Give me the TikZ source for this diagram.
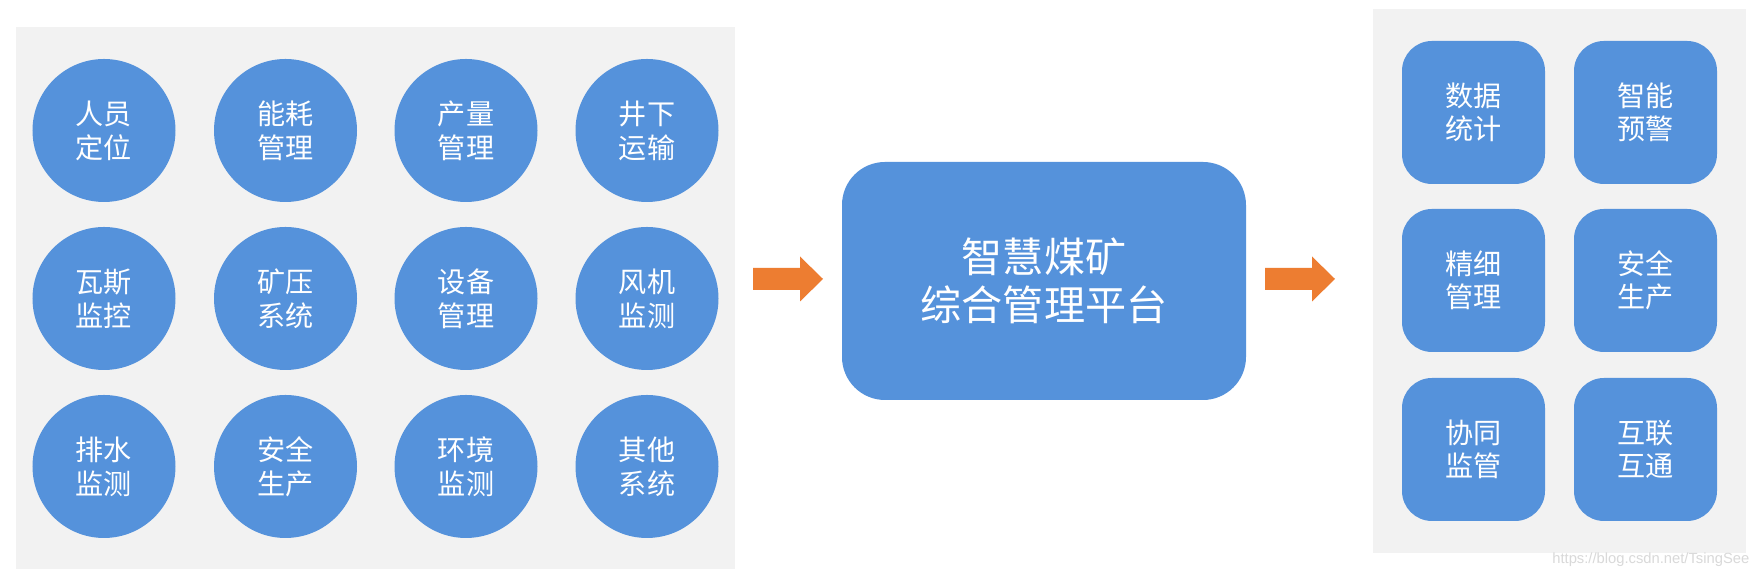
\documentclass[tikz,border=0pt]{standalone}
\usepackage{fontspec}
\setmainfont{Noto Sans CJK SC}
\newfontfamily\markfont{Liberation Sans}

\definecolor{nodeblue}{RGB}{85,146,219}
\definecolor{panelgray}{RGB}{242,242,242}
\definecolor{arroworange}{RGB}{237,125,49}

\tikzstyle{panel} = [fill=panelgray, draw=none]
\tikzstyle{sys} = [circle, fill=nodeblue, minimum size=1.43cm, text=white, font=\fontsize{8}{9.7}\selectfont]
\tikzstyle{func} = [rectangle, rounded corners=0.3cm, fill=nodeblue, minimum size=1.43cm, text=white, font=\fontsize{8}{9.5}\selectfont]
\tikzstyle{platform} = [rectangle, rounded corners=0.43cm, fill=nodeblue, minimum width=4.04cm, minimum height=2.38cm, text=white, font=\fontsize{11.7}{13.7}\selectfont]
\tikzstyle{bigarrow} = [fill=arroworange]

\begin{document}
\begin{tikzpicture}[every node/.style={inner sep=0pt, align=center}]
	\useasboundingbox [fill=white] (0,0) rectangle (17.6,5.78);
	% left panel: subsystems
	\fill [panel] (.16,.09) rectangle (7.35,5.51);
	\node [sys] (c11) at (1.04,4.475) {人员\\定位};
	\node [sys] (c12) at (2.855,4.475) {能耗\\管理};
	\node [sys] (c13) at (4.66,4.475) {产量\\管理};
	\node [sys] (c14) at (6.47,4.475) {井下\\运输};
	\node [sys] (c21) at (1.04,2.795) {瓦斯\\监控};
	\node [sys] (c22) at (2.855,2.795) {矿压\\系统};
	\node [sys] (c23) at (4.66,2.795) {设备\\管理};
	\node [sys] (c24) at (6.47,2.795) {风机\\监测};
	\node [sys] (c31) at (1.04,1.115) {排水\\监测};
	\node [sys] (c32) at (2.855,1.115) {安全\\生产};
	\node [sys] (c33) at (4.66,1.115) {环境\\监测};
	\node [sys] (c34) at (6.47,1.115) {其他\\系统};
	% arrows
	\fill [bigarrow] (7.53,2.88) -- (8.00,2.88) -- (8.00,2.765) -- (8.23,2.99) -- (8.00,3.215) -- (8.00,3.10) -- (7.53,3.10) -- cycle;
	\fill [bigarrow] (12.65,2.88) -- (13.12,2.88) -- (13.12,2.765) -- (13.35,2.99) -- (13.12,3.215) -- (13.12,3.10) -- (12.65,3.10) -- cycle;
	% platform
	\node [platform] (hub) at (10.44,2.97) {智慧煤矿\\综合管理平台};
	% right panel: functions
	\fill [panel] (13.73,.25) rectangle (17.46,5.69);
	\node [func] (f11) at (14.735,4.655) {数据\\统计};
	\node [func] (f12) at (16.455,4.655) {智能\\预警};
	\node [func] (f21) at (14.735,2.975) {精细\\管理};
	\node [func] (f22) at (16.455,2.975) {安全\\生产};
	\node [func] (f31) at (14.735,1.285) {协同\\监管};
	\node [func] (f32) at (16.455,1.285) {互联\\互通};
	\node [anchor=east, text=gray!30, font=\markfont\fontsize{4.2}{5}\selectfont] (mark) at (17.50,.18) {https://blog.csdn.net/TsingSee};
\end{tikzpicture}
\end{document}
